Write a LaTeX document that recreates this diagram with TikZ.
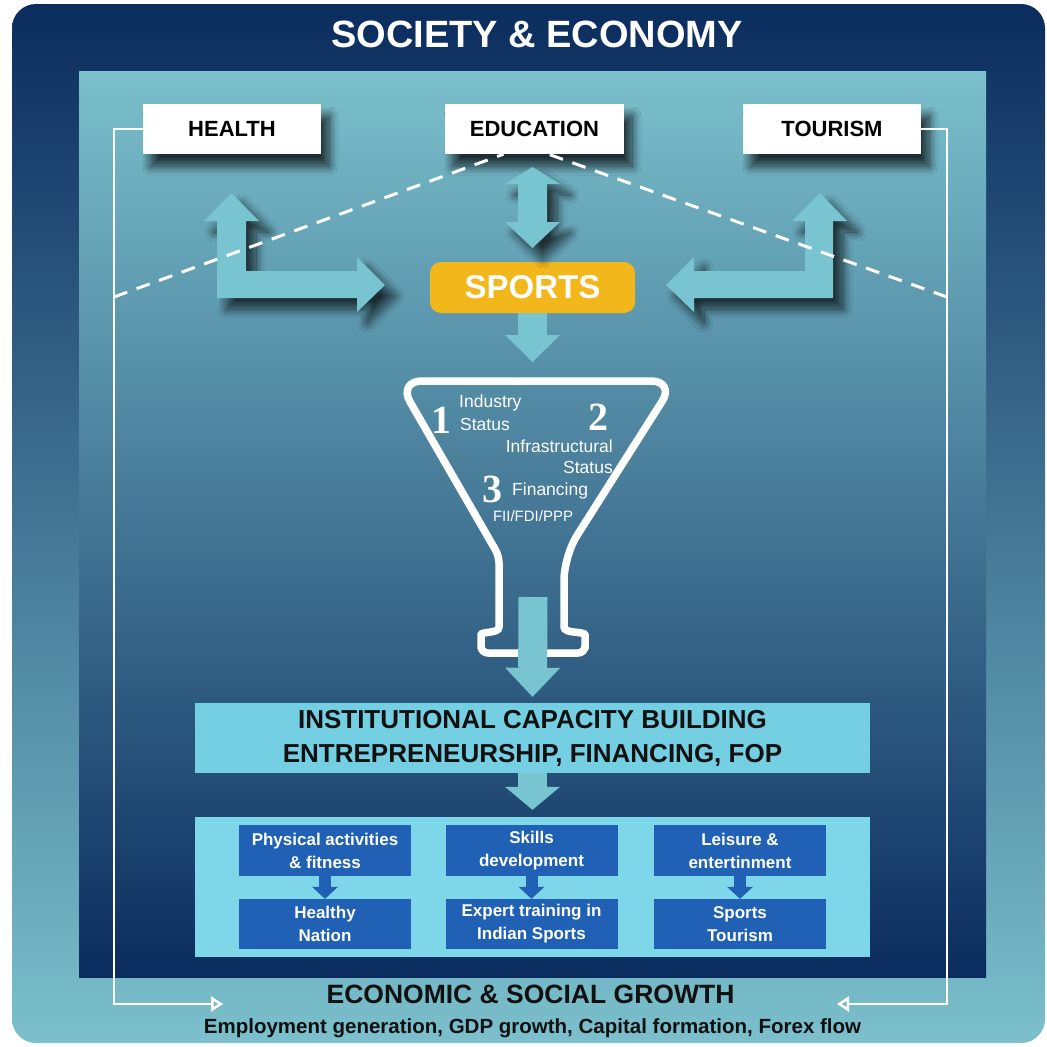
\documentclass[tikz,border=0pt]{standalone}
\usepackage{fontspec}
\setmainfont{Liberation Sans}
\newfontfamily\numfont{Liberation Serif}
\usetikzlibrary{arrows.meta,shadows.blur}

\begin{document}
\begin{tikzpicture}[x=1pt,y=-1pt,
  topic/.style={fill=white,minimum width=178pt,minimum height=50pt,inner sep=0pt,
    font=\bfseries\fontsize{22}{24}\selectfont,
    blur shadow={shadow xshift=8pt,shadow yshift=-12pt,shadow blur radius=9pt,
      shadow blur steps=24,shadow opacity=75}},
  outcome/.style={fill=royal,text=white,minimum width=172pt,minimum height=51pt,inner sep=0pt,
    align=center,font=\bfseries\fontsize{17}{23}\selectfont},
  funneltext/.style={text=white,inner sep=0pt,font=\fontsize{17.5}{20}\selectfont},
  digit/.style={text=white,inner sep=0pt,anchor=base,font=\numfont\bfseries\fontsize{40}{40}\selectfont},
  bigarrow/.style={draw=arrowteal,line width=29pt,
    -{Triangle[length=27pt 0 0,width=55pt 0 0,line width=0pt 0 0]}},
  smallarrow/.style={draw=royal,line width=12pt,
    -{Triangle[length=12pt 0 0,width=26pt 0 0,line width=0pt 0 0]}},
  feedback/.style={draw=white,line width=2.5pt,-{Triangle[open,length=12pt 0 0,width=15pt 0 0]}},
  hint/.style={draw=white,line width=3pt,dash pattern=on 14pt off 10pt},
  lshadow/.style={blur shadow={shadow xshift=10pt,shadow yshift=-11pt,shadow blur radius=9pt,
      shadow blur steps=24,shadow opacity=70}}]
\definecolor{navy}{HTML}{0B2C5E}
\definecolor{paleteal}{HTML}{7BC0CC}
\definecolor{arrowteal}{HTML}{78C4D0}
\definecolor{gold}{HTML}{F2B71B}
\definecolor{skyband}{HTML}{74CFE3}
\definecolor{skypanel}{HTML}{7ED7E9}
\definecolor{royal}{HTML}{2060B5}
\definecolor{ink}{HTML}{111111}

% frame and panel
\useasboundingbox (0,0) rectangle (1047,1047);
\fill[white] (0,0) rectangle (1047,1047);
\shade[top color=navy,bottom color=paleteal,rounded corners=24pt] (12,4) rectangle (1045,1043);
\shade[top color=paleteal,bottom color=navy] (79,71) rectangle (986,977);
\node[text=white,anchor=base,font=\bfseries\fontsize{38}{40}\selectfont] (society) at (537,47) {SOCIETY \& ECONOMY};

% top row
\node[topic] (health) at (232,129) {HEALTH};
\node[topic,minimum width=179pt] (education) at (534.5,129) {EDUCATION};
\node[topic] (tourism) at (832,129) {TOURISM};
\node[fill=gold,rounded corners=11pt,minimum width=205pt,minimum height=51pt,text=white,
  font=\bfseries\fontsize{33}{36}\selectfont] (sports) at (532.5,287.5) {SPORTS};

% block arrows round sports
\fill[arrowteal,lshadow] (231.5,193) -- (259,221) -- (246,221) -- (246,271) -- (357,271) -- (357,257)
  -- (385,285) -- (357,312) -- (357,298) -- (217,298) -- (217,221) -- (204,221) -- cycle;
\fill[arrowteal,lshadow] (820,193) -- (847,221) -- (833,221) -- (833,298) -- (694,298) -- (694,312)
  -- (666,285) -- (694,257) -- (694,271) -- (805,271) -- (805,221) -- (792,221) -- cycle;
\fill[arrowteal,lshadow] (532.5,167) -- (560,184) -- (547,184) -- (547,222) -- (560,222) -- (532.5,248)
  -- (505,222) -- (518,222) -- (518,184) -- (505,184) -- cycle;

% feedback lines
\coordinate (lcorner) at (114,1004);
\coordinate (rcorner) at (947,1004);
\coordinate (lend) at (223,1004);
\coordinate (rend) at (837,1004);
\draw[feedback] (health.west) -| (lcorner) -- (lend);
\draw[feedback] (tourism.east) -| (rcorner) -- (rend);
\coordinate (ldash) at (114,297);
\coordinate (rdash) at (947,297);
\draw[hint] (ldash) -- ([xshift=-31pt]education.south);
\draw[hint] (rdash) -- ([xshift=14pt]education.south);

% funnel
\draw[white,line width=7.5pt,rounded corners=7pt] (481,653) -- (481,642)
  .. controls (481,631) and (499,634) .. (499,620) -- (499,556)
  [rounded corners=24pt] -- (398,381) -- (675,381) -- (564,556)
  [rounded corners=7pt] -- (564,620) .. controls (564,634) and (585,631) .. (585,642)
  -- (585,653) -- cycle;
\node[digit] (one) at (441,433) {1};
\node[digit] (two) at (598,430) {2};
\node[digit] (three) at (492,502) {3};
\node[funneltext,anchor=base west] (industry) at (459,407) {Industry};
\node[funneltext,anchor=base west] (status) at (460,430) {Status};
\node[funneltext,anchor=base east] (infra) at (613,452) {Infrastructural};
\node[funneltext,anchor=base east] (infrastatus) at (613,473) {Status};
\node[funneltext,anchor=base west] (financing) at (512,495) {Financing};
\node[funneltext,anchor=base,font=\fontsize{15}{17}\selectfont] (routes) at (533,521) {FII/FDI/PPP};

% lower part
\node[fill=skyband,minimum width=675pt,minimum height=70pt,align=center,text=ink,
  font=\bfseries\fontsize{26}{34}\selectfont] (icb) at (532.5,738)
  {INSTITUTIONAL CAPACITY BUILDING\\ENTREPRENEURSHIP, FINANCING, FOP};
\node[fill=skypanel,minimum width=675pt,minimum height=140pt] (outcomes) at (532.5,887) {};
\node[outcome] (physical) at (325,850.5) {Physical activities\\\& fitness};
\node[outcome] (skills) at (531.5,850.5) {Skills\\development};
\node[outcome] (leisure) at (740,850.5) {Leisure \&\\entertinment};
\node[outcome,minimum height=50pt] (healthy) at (325,924) {Healthy\\Nation};
\node[outcome,minimum height=50pt] (expert) at (531.5,924) {Expert training in\\Indian Sports};
\node[outcome,minimum height=50pt] (stourism) at (740,924) {Sports\\Tourism};
\foreach \a/\b in {physical/healthy,skills/expert,leisure/stourism}
  \draw[smallarrow] (\a.south) -- (\b.north);

% straight arrows
\coordinate (funneltop) at (532.5,362);
\coordinate (stem) at (533,597);
\draw[bigarrow] (sports.south) -- (funneltop);
\draw[bigarrow,-{Triangle[length=29pt 0 0,width=55pt 0 0,line width=0pt 0 0]}] (stem) -- ([yshift=6pt]icb.north);
\draw[bigarrow,-{Triangle[length=23pt 0 0,width=55pt 0 0,line width=0pt 0 0]}] (icb.south) -- ([yshift=7pt]outcomes.north);

\node[anchor=base,text=ink,font=\bfseries\fontsize{26.5}{30}\selectfont] (growth) at (530.5,1003) {ECONOMIC \& SOCIAL GROWTH};
\node[anchor=base,text=ink,font=\bfseries\fontsize{20.5}{24}\selectfont] (drivers) at (532.5,1033)
  {Employment generation, GDP growth, Capital formation, Forex flow};
\end{tikzpicture}
\end{document}
